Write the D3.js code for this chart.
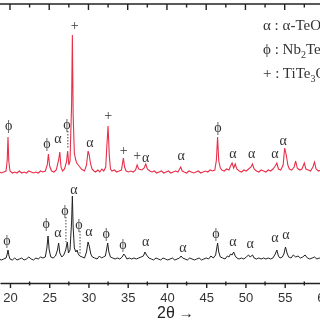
<!DOCTYPE html>
<html>
<head>
<meta charset="utf-8">
<script src="https://cdn.jsdelivr.net/npm/d3@7"></script>
<style>
  body { margin: 0; background: #fff; }
  svg { display: block; }
</style>
</head>
<body>
<svg id="chart" width="320" height="320"></svg>
<script>
// red trace (upper), [2theta, intensity above its own baseline]
const redTrace = [
  [18.6,3],[18.9,2],[19.2,3],[19.5,4],[19.65,15],[19.75,38],[19.85,14],[20.0,4],[20.3,2],[20.6,3],
  [20.9,2],[21.2,4],[21.5,2],[21.8,3],[22.1,2],[22.4,4],[22.7,3],[23.0,2],[23.3,3],[23.6,2],
  [23.9,4],[24.2,3],[24.5,4],[24.75,10],[24.9,21],[25.05,9],[25.3,4],[25.6,3],[25.9,5],[26.2,15],
  [26.35,23],[26.5,8],[26.7,4],[26.95,6],[27.2,13],[27.35,24],[27.5,10],[27.65,14],[27.85,70],[27.95,140],
  [28.05,60],[28.2,22],[28.35,16],[28.5,12],[28.7,10],[28.9,8],[29.1,6],[29.3,5],[29.5,4],[29.75,10],
  [29.95,24],[30.1,20],[30.25,12],[30.45,6],[30.7,4],[30.9,3],[31.2,5],[31.45,3],[31.7,6],[31.95,4],
  [32.2,8],[32.35,30],[32.5,49],[32.65,20],[32.8,6],[33.0,4],[33.3,5],[33.6,3],[33.9,4],[34.2,5],
  [34.45,17],[34.6,8],[34.8,4],[35.1,3],[35.4,4],[35.7,3],[36.0,5],[36.2,10],[36.4,6],[36.8,5],
  [37.1,7],[37.3,11],[37.5,6],[37.8,4],[38.1,3],[38.4,4],[38.7,2],[39.0,3],[39.3,4],[39.6,2],
  [39.9,3],[40.2,4],[40.5,2],[40.8,3],[41.1,4],[41.4,3],[41.75,8],[41.95,4],[42.2,3],[42.5,2],
  [42.8,4],[43.1,3],[43.4,2],[43.7,3],[44.0,4],[44.3,2],[44.6,3],[44.9,4],[45.2,3],[45.5,5],
  [45.8,4],[46.1,5],[46.3,15],[46.45,38],[46.6,14],[46.8,7],[47.0,5],[47.3,4],[47.6,6],[47.9,5],
  [48.1,9],[48.3,12],[48.5,7],[48.7,11],[48.9,6],[49.2,4],[49.5,3],[49.8,5],[50.1,4],[50.4,6],
  [50.7,8],[50.9,11],[51.1,6],[51.4,4],[51.7,3],[52.0,5],[52.3,4],[52.6,3],[52.9,5],[53.2,4],
  [53.5,6],[53.8,9],[54.0,12],[54.2,6],[54.5,5],[54.8,10],[55.0,27],[55.2,20],[55.4,10],[55.6,6],
  [55.9,5],[56.2,8],[56.4,14],[56.6,7],[56.9,5],[57.2,6],[57.5,12],[57.7,6],[58.0,5],[58.3,4],
  [58.6,8],[58.8,13],[59.0,6],[59.3,4],[59.6,5],[59.9,4],[60.2,3]
];

// black trace (lower)
const blackTrace = [
  [18.6,3],[18.9,2],[19.2,3],[19.5,4],[19.65,8],[19.75,12],[19.85,7],[20.0,3],[20.3,2],[20.6,4],
  [20.9,2],[21.2,3],[21.5,4],[21.8,2],[22.1,3],[22.4,5],[22.7,3],[23.0,2],[23.3,4],[23.6,3],
  [23.9,5],[24.2,4],[24.5,5],[24.7,14],[24.85,26],[25.0,12],[25.2,5],[25.5,4],[25.8,6],[26.05,12],
  [26.2,19],[26.35,9],[26.6,5],[26.85,7],[27.1,12],[27.3,20],[27.45,9],[27.65,12],[27.85,40],[27.95,66],
  [28.05,35],[28.2,14],[28.4,10],[28.55,12],[28.7,8],[28.9,6],[29.2,5],[29.5,4],[29.75,10],[29.95,20],
  [30.1,16],[30.3,8],[30.5,5],[30.8,4],[31.1,3],[31.4,6],[31.65,4],[31.9,5],[32.15,6],[32.3,12],
  [32.45,19],[32.6,10],[32.8,5],[33.1,4],[33.4,3],[33.7,4],[34.0,3],[34.3,5],[34.5,8],[34.7,6],
  [34.9,3],[35.2,4],[35.5,3],[35.8,4],[36.1,3],[36.4,4],[36.7,5],[37.0,6],[37.2,10],[37.4,7],
  [37.7,4],[38.0,3],[38.3,2],[38.6,4],[38.9,3],[39.2,2],[39.5,4],[39.8,3],[40.1,2],[40.4,3],
  [40.7,4],[41.0,2],[41.3,3],[41.6,4],[41.8,6],[42.0,4],[42.3,3],[42.6,2],[42.9,4],[43.2,3],
  [43.5,2],[43.8,3],[44.1,4],[44.4,2],[44.7,3],[45.0,4],[45.3,3],[45.6,6],[45.9,4],[46.2,7],
  [46.45,19],[46.6,10],[46.8,5],[47.1,4],[47.4,3],[47.7,6],[47.9,5],[48.1,8],[48.3,7],[48.5,10],
  [48.7,6],[48.9,4],[49.2,3],[49.5,4],[49.8,3],[50.1,5],[50.4,7],[50.6,5],[50.9,7],[51.1,4],
  [51.4,3],[51.7,4],[52.0,3],[52.3,4],[52.6,3],[52.9,4],[53.2,3],[53.5,4],[53.8,8],[54.0,12],
  [54.2,6],[54.4,4],[54.7,5],[54.9,8],[55.1,15],[55.3,9],[55.5,5],[55.8,4],[56.1,7],[56.4,5],
  [56.7,6],[57.0,4],[57.3,5],[57.6,7],[57.9,4],[58.2,3],[58.5,4],[58.8,5],[59.1,3],[59.4,4],
  [59.7,3],[60.0,4]
];

// peak markers: [symbol, 2theta, label level, dotted leader down to this level or null]
const redLabels = [
  ['ϕ',19.85,50,null],['ϕ',24.7,32,null],['α',26.1,37,null],['ϕ',27.25,51,26],
  ['+',28.25,150,null],['α',30.2,33,null],['+',32.5,60,null],['+',34.5,25,null],
  ['+',36.2,20,null],['α',37.3,18,null],['α',41.8,20,null],['ϕ',46.5,48,null],
  ['α',48.4,22,null],['α',50.8,22,null],['α',53.75,22,null],['α',54.8,35,null]
];
const blackLabels = [
  ['ϕ',19.6,22,null],['ϕ',24.6,39,null],['α',26.1,30,null],['ϕ',27.0,52,20],
  ['α',28.15,73,null],['ϕ',28.8,38,7],['α',30.05,31,null],['ϕ',32.25,29,null],
  ['ϕ',34.4,18,null],['α',37.3,21,null],['α',42.05,15,null],['ϕ',46.25,29,null],
  ['α',48.4,21,null],['α',50.6,19,null],['α',53.75,25,null],['α',55.15,28,null]
];

const legendRows = [
  ['α : α-TeO', '2', ''],
  ['ϕ : Nb', '2', 'Te4'],
  ['+ : TiTe', '3', 'O8']
];

const majorTicks = [20, 25, 30, 35, 40, 45, 50, 55, 60];
const minorTicks = [22.5, 27.5, 32.5, 37.5, 42.5, 47.5, 52.5, 57.5];

const width = 320, height = 320;
const plotTop = 4, plotBottom = 283;
const redOffset = 108, blackOffset = 21;

const svg = d3.select('#chart');

// grayscale filter so thin glyphs don't pick up colour fringes
svg.append('defs').append('filter')
  .attr('id', 'gs')
  .append('feColorMatrix')
  .attr('type', 'saturate')
  .attr('values', 0);

const x = d3.scaleLinear().domain([18.73, 60.9]).range([0, 331]);
const y = d3.scaleLinear().domain([0, plotBottom - plotTop]).range([plotBottom, plotTop]);

const serif = '"Liberation Serif", "Times New Roman", "DejaVu Serif", serif';
const sans = '"Liberation Sans", Arial, sans-serif';

// top frame line with inward ticks
const topG = svg.append('g').attr('transform', `translate(0,${plotTop})`);
topG.append('line').attr('x1', 0).attr('x2', width).attr('stroke', '#222').attr('stroke-width', 1.3);
topG.selectAll('.maj').data(majorTicks).join('line')
  .attr('x1', d => x(d)).attr('x2', d => x(d)).attr('y1', 0).attr('y2', 6)
  .attr('stroke', '#222').attr('stroke-width', 1.4);
topG.selectAll('.min').data(minorTicks).join('line')
  .attr('x1', d => x(d)).attr('x2', d => x(d)).attr('y1', 0).attr('y2', 3.5)
  .attr('stroke', '#222').attr('stroke-width', 1.4);

// bottom axis
const xAxis = d3.axisBottom(x)
  .tickValues(majorTicks)
  .tickFormat(d3.format('d'))
  .tickSizeInner(5)
  .tickSizeOuter(0)
  .tickPadding(5);

const bottomG = svg.append('g')
  .attr('filter', 'url(#gs)')
  .attr('transform', `translate(0,${plotBottom})`)
  .call(xAxis);
bottomG.select('.domain').attr('stroke', '#222').attr('stroke-width', 1.3);
bottomG.selectAll('.tick line').attr('stroke', '#222').attr('stroke-width', 1.4);
bottomG.selectAll('.tick text')
  .attr('fill', '#333')
  .style('font-family', sans)
  .style('font-size', '13px');
bottomG.selectAll('.minor').data(minorTicks).join('line')
  .attr('class', 'minor')
  .attr('x1', d => x(d)).attr('x2', d => x(d)).attr('y1', -1.5).attr('y2', 2.5)
  .attr('stroke', '#222').attr('stroke-width', 1.4);

// axis title
const title = svg.append('text')
  .attr('filter', 'url(#gs)')
  .attr('x', 157).attr('y', 318)
  .attr('fill', '#222')
  .style('font-family', sans)
  .style('font-size', '16px');
title.append('tspan').text('2θ');
title.append('tspan').attr('dx', 4).style('font-size', '15px').text('→');

// traces
const line = offset => d3.line()
  .x(d => x(d[0]))
  .y(d => y(d[1] + offset));

svg.append('path')
  .datum(blackTrace)
  .attr('fill', 'none')
  .attr('stroke', '#222')
  .attr('stroke-width', 1)
  .attr('d', line(blackOffset));

svg.append('path')
  .datum(redTrace)
  .attr('fill', 'none')
  .attr('stroke', '#e8304a')
  .attr('stroke-width', 1.1)
  .attr('d', line(redOffset));

// peak labels
const labelG = svg.append('g').attr('filter', 'url(#gs)');

function drawLabels(labels, offset, cls) {
  labelG.selectAll(`.${cls}`).data(labels).join('text')
    .attr('class', cls)
    .attr('x', d => x(d[1]))
    .attr('y', d => y(d[2] + offset))
    .attr('dy', '0.35em')
    .attr('text-anchor', 'middle')
    .attr('fill', '#333')
    .style('font-family', serif)
    .style('font-size', '14px')
    .text(d => d[0]);

  labelG.selectAll(`.${cls}-lead`).data(labels.filter(d => d[3] !== null)).join('line')
    .attr('class', `${cls}-lead`)
    .attr('x1', d => x(d[1]) + 1).attr('x2', d => x(d[1]) + 1)
    .attr('y1', d => y(d[2] + offset) + 7)
    .attr('y2', d => y(d[3] + offset))
    .attr('stroke', '#444')
    .attr('stroke-width', 1)
    .attr('stroke-dasharray', '1.5,1.5');
}
drawLabels(redLabels, redOffset, 'rlab');
drawLabels(blackLabels, blackOffset, 'blab');

// legend
const legendG = svg.append('g').attr('filter', 'url(#gs)');
legendRows.forEach((row, i) => {
  const t = legendG.append('text')
    .attr('x', 263)
    .attr('y', 30 + i * 24)
    .attr('fill', '#333')
    .style('font-family', serif)
    .style('font-size', '15px');
  t.append('tspan').text(row[0]);
  t.append('tspan').attr('dy', 4).style('font-size', '10px').text(row[1]);
  t.append('tspan').attr('dy', -4).text(row[2]);
});
</script>
</body>
</html>
